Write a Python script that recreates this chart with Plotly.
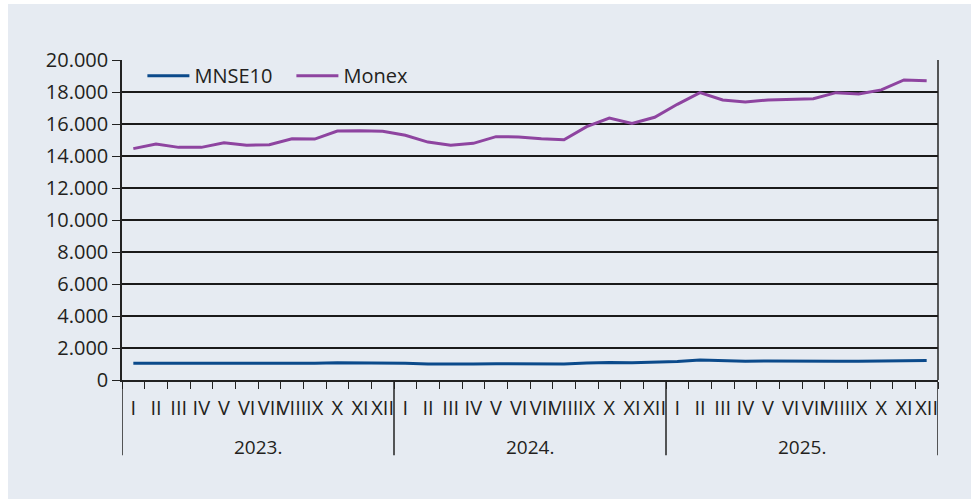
import plotly.graph_objects as go

months = ["I", "II", "III", "IV", "V", "VI", "VII", "VIII", "IX", "X", "XI", "XII"]
years = ["2023.", "2024.", "2025."]

mnse10 = [1040, 1040, 1020, 1000, 1040, 1000, 1000, 1020, 1040, 1080, 1080, 1080,
          1040, 1000, 980, 1000, 1020, 1020, 1000, 1000, 1060, 1100, 1080, 1100,
          1150, 1250, 1200, 1170, 1190, 1170, 1170, 1170, 1170, 1190, 1230, 1220]
monex = [14460, 14750, 14540, 14540, 14830, 14670, 14710, 15080, 15060, 15560, 15580, 15540,
         15300, 14870, 14670, 14790, 15210, 15190, 15080, 15020, 15830, 16370, 16040, 16420,
         17230, 17960, 17500, 17380, 17500, 17520, 17580, 17960, 17880, 18130, 18750, 18710]

n = len(years) * len(months)
xpos = [i + 0.5 for i in range(n)]
ticktext = months * len(years)

font_family = "Open Sans, Noto Sans, sans-serif"
txt = "#231f20"
bg = "#e6ebf2"

fig = go.Figure()
fig.add_trace(go.Scatter(x=xpos, y=mnse10, mode="lines", name="MNSE10",
                         line=dict(color="#0b4a8b", width=3)))
fig.add_trace(go.Scatter(x=xpos, y=monex, mode="lines", name="Monex",
                         line=dict(color="#8e44a0", width=3)))

shapes = []
for k in range(len(years) + 1):
    shapes.append(dict(type="line", xref="x", yref="paper", x0=k * 12, x1=k * 12,
                       y0=0, y1=-0.235, line=dict(color="#222", width=1.5)))
shapes.append(dict(type="line", xref="paper", yref="paper", x0=1, x1=1, y0=0, y1=1,
                   line=dict(color="#222", width=1.5)))

annotations = []
for k, yr in enumerate(years):
    annotations.append(dict(x=k * 12 + 6, y=-0.21, xref="x", yref="paper", text=yr,
                            showarrow=False, yanchor="middle",
                            font=dict(family=font_family, size=19, color=txt)))

fig.update_layout(
    width=979, height=499,
    margin=dict(l=114, r=49, t=56, b=123),
    paper_bgcolor=bg, plot_bgcolor=bg,
    separators=",.",
    font=dict(family=font_family, size=19, color=txt),
    showlegend=True,
    legend=dict(orientation="h", x=0.025, y=1.012, xanchor="left", yanchor="top",
                bgcolor="rgba(0,0,0,0)", font=dict(size=20, color=txt),
                itemwidth=42, entrywidth=92, tracegroupgap=0),
    shapes=shapes,
    annotations=annotations,
    xaxis=dict(range=[0, n], tickmode="array", tickvals=xpos, ticktext=ticktext,
               tickangle=0, ticks="", showgrid=False, zeroline=False,
               showline=True, linecolor="#222", linewidth=1.5,
               ticklabelstandoff=9,
               tickfont=dict(size=20, color=txt),
               minor=dict(ticks="outside", dtick=1, tick0=0, ticklen=7,
                          tickcolor="#222", tickwidth=1.2, showgrid=False)),
    yaxis=dict(range=[0, 20000], dtick=2000, tickformat=",d",
               showgrid=True, gridcolor="#1a1a1a", gridwidth=1.5,
               zeroline=False, showline=True, linecolor="#222", linewidth=1.5,
               ticks="outside", ticklen=8, tickcolor="#222", tickwidth=1.2,
               tickfont=dict(size=20, color=txt)),
)

fig.write_html("out.html", post_script="document.body.style.marginTop='4px';")
